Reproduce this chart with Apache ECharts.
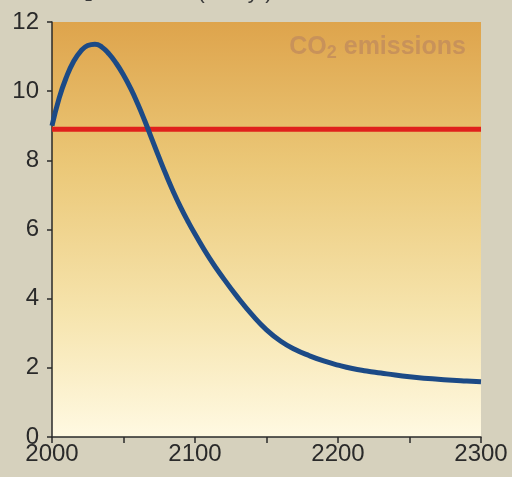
<!DOCTYPE html>
<html>
<head>
<meta charset="utf-8">
<script src="https://cdn.jsdelivr.net/npm/echarts@6/dist/echarts.min.js"></script>
<style>
html,body{margin:0;padding:0;background:#d6d1bd;}
#c{width:512px;height:477px;}
</style>
</head>
<body>
<div id="c"></div>
<script>
const years = [2000,2005,2010,2015,2020,2025,2030,2035,2040,2045,2050,2055,2060,2065,2070,2075,2080,2085,2090,2095,2100,2110,2120,2130,2140,2150,2160,2170,2180,2190,2200,2210,2220,2230,2240,2250,2260,2270,2280,2290,2300];
const emissions = [9.0,9.8,10.4,10.85,11.15,11.32,11.36,11.27,11.07,10.8,10.47,10.08,9.63,9.13,8.6,8.07,7.56,7.08,6.64,6.24,5.87,5.18,4.58,4.03,3.53,3.1,2.77,2.53,2.35,2.2,2.08,1.98,1.91,1.85,1.79,1.74,1.7,1.67,1.64,1.62,1.6];
const refYears = [2000,2300];
const refLevel = [8.9,8.9];
const yTicks = [0,2,4,6,8,10,12];
const xLabels = [2000,2100,2200,2300];
const seriesLabel = 'CO{s|2} emissions';
const titleText = 'CO\u2082 emissions (GtC/yr)';

const chart = echarts.init(document.getElementById('c'), null, {renderer:'canvas'});
const font = 'Liberation Sans, Arial, sans-serif';
chart.setOption({
  backgroundColor:'#d6d1bd',
  animation:false,
  title:{text:titleText,left:48,top:-22,textStyle:{fontFamily:font,fontSize:21,fontWeight:'normal',color:'#3a3a3a'}},
  grid:{left:52,right:31,top:22,bottom:40,show:true,borderWidth:0,
    backgroundColor:new echarts.graphic.LinearGradient(0,0,0,1,[
      {offset:0,color:'#dea44c'},{offset:0.35,color:'#ebc878'},{offset:0.7,color:'#f6e4ad'},{offset:1,color:'#fff9e2'}])},
  xAxis:{type:'value',min:2000,max:2300,interval:50,
    axisLine:{lineStyle:{color:'#2a2a2a',width:1.5}},
    axisTick:{length:6,lineStyle:{color:'#2a2a2a',width:1.5}},
    splitLine:{show:false},
    axisLabel:{fontFamily:font,fontSize:24,color:'#2a2a2a',margin:5,
      formatter:v=>xLabels.indexOf(v)>=0?String(v):''}},
  yAxis:{type:'value',min:0,max:12,interval:2,
    axisLine:{show:true,lineStyle:{color:'#2a2a2a',width:1.5}},
    axisTick:{show:true,length:5,lineStyle:{color:'#2a2a2a',width:1.5}},
    splitLine:{show:false},
    axisLabel:{fontFamily:font,fontSize:24,color:'#2a2a2a',margin:13,
      formatter:v=>yTicks.indexOf(v)>=0?String(v):''}},
  graphic:[{type:'text',right:46,top:35,z:10,
    style:{text:seriesLabel,font:'bold 25px '+font,fill:'#c8925a',
      rich:{s:{font:'bold 18px '+font,fill:'#c8925a',padding:[12,0,0,0]}}}}],
  series:[
    {type:'line',data:refYears.map((y,i)=>[y,refLevel[i]]),symbol:'none',
      lineStyle:{color:'#e0201c',width:5},z:2},
    {type:'line',data:years.map((y,i)=>[y,emissions[i]]),symbol:'none',smooth:0.5,
      lineStyle:{color:'#1c4a86',width:5},z:3}
  ]
});
</script>
</body>
</html>
